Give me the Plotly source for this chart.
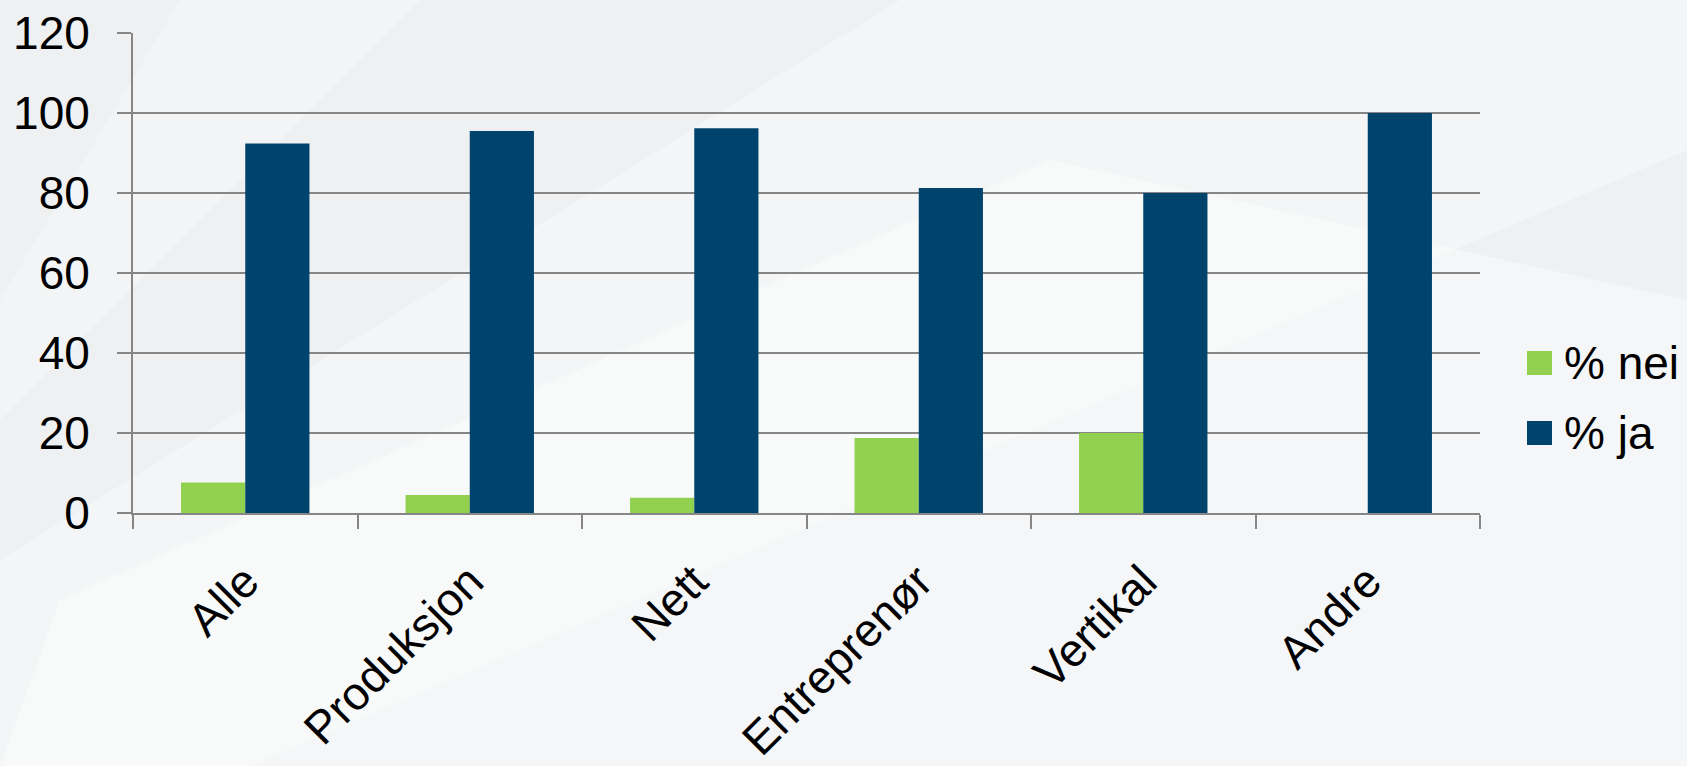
import plotly.graph_objects as go

# ---- data ----
categories = ["Alle", "Produksjon", "Nett", "Entreprenør", "Vertikal", "Andre"]
nei_values = [7.6, 4.5, 3.8, 18.75, 20.0, 0.0]
ja_values = [92.4, 95.5, 96.2, 81.25, 80.0, 100.0]
series_names = ["% nei", "% ja"]
series_colors = ["#92D050", "#00446E"]
y_ticks = [0, 20, 40, 60, 80, 100, 120]

# ---- geometry ----
W, H = 1687, 766
ML, MR, MT, MB = 133, 207, 33, 253
PW, PH = W - ML - MR, H - MT - MB
FONT = "Liberation Sans, Arial, sans-serif"
AXIS_GRAY = "#868686"


def px_x(x):
    return (x - ML) / PW


def px_y(y):
    return (H - MB - y) / PH


fig = go.Figure()
for name, vals, col in zip(series_names, [nei_values, ja_values], series_colors):
    fig.add_trace(go.Bar(x=categories, y=vals, name=name, marker_color=col,
                         marker_line_width=0, showlegend=False))

shapes = []
# subtle background facets
bg_polys = [
    ([(0, 766), (0, 560), (900, 0), (1687, 0), (1687, 150), (250, 766)], 0.35),
    ([(0, 766), (60, 600), (1050, 160), (1687, 300), (1687, 766)], 0.4),
    ([(0, 300), (180, 0), (420, 0), (0, 420)], 0.25),
]
for pts, op in bg_polys:
    path = "M " + " L ".join(f"{px_x(x):.4f},{px_y(y):.4f}" for x, y in pts) + " Z"
    shapes.append(dict(type="path", path=path, xref="paper", yref="paper",
                       fillcolor="white", opacity=op, line_width=0, layer="below"))

# custom legend keys
annotations = []
legend_rows = [363, 433]
for name, col, yc in zip(series_names, series_colors, legend_rows):
    shapes.append(dict(type="rect", xref="paper", yref="paper",
                       x0=px_x(1527), x1=px_x(1552), y0=px_y(yc - 12), y1=px_y(yc + 12),
                       fillcolor=col, line_width=0))
    annotations.append(dict(x=px_x(1562), y=px_y(yc), xref="paper", yref="paper",
                            text=name, showarrow=False, xanchor="left", yanchor="middle",
                            font=dict(family=FONT, size=46, color="black")))

fig.update_layout(
    width=W, height=H,
    margin=dict(l=ML, r=MR, t=MT, b=MB, autoexpand=False),
    paper_bgcolor="#EEF0F2",
    plot_bgcolor="rgba(0,0,0,0)",
    barmode="group", bargap=0.428, bargroupgap=0,
    shapes=shapes, annotations=annotations,
    font=dict(family=FONT, size=46, color="black"),
    xaxis=dict(type="category", showgrid=False, showline=True, linecolor=AXIS_GRAY,
               linewidth=2, ticks="outside", ticklen=14, tickwidth=2, tickcolor=AXIS_GRAY,
               tickson="boundaries", tickangle=-45, ticklabelstandoff=21,
               tickfont=dict(family=FONT, size=46, color="black")),
    yaxis=dict(range=[0, 120], tickvals=y_ticks, showgrid=True, gridcolor=AXIS_GRAY,
               gridwidth=2, zeroline=False, showline=True, linecolor=AXIS_GRAY, linewidth=2,
               ticks="outside", ticklen=14, tickwidth=2, tickcolor=AXIS_GRAY,
               ticklabelstandoff=18,
               tickfont=dict(family=FONT, size=46, color="black")),
)

fig.write_html("out.html", config={"displayModeBar": False},
               post_script="document.body.style.margin='0';")
